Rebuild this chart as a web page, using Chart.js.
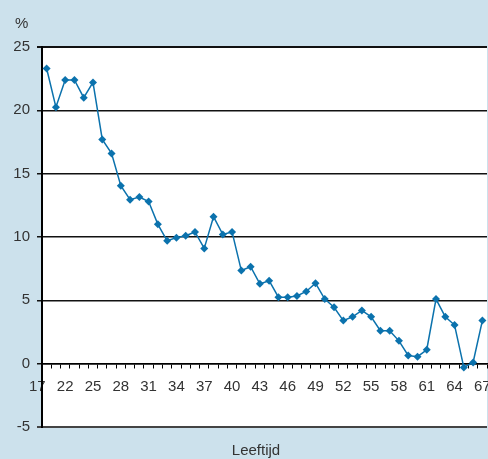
<!DOCTYPE html>
<html>
<head>
<meta charset="utf-8">
<script src="https://cdn.jsdelivr.net/npm/chart.js@4.4.1/dist/chart.umd.min.js"></script>
<style>
  html, body { margin: 0; padding: 0; background: #cce1ec; overflow: hidden; }
  #wrap { position: relative; width: 491px; height: 459px; }
</style>
</head>
<body>
<div id="wrap"><canvas id="chart"></canvas></div>
<script>
// Data
const ages = [20, 21, 22, 23, 24, 25, 26, 27, 28, 29, 30, 31, 32, 33, 34, 35,
  36, 37, 38, 39, 40, 41, 42, 43, 44, 45, 46, 47, 48, 49, 50, 51,
  52, 53, 54, 55, 56, 57, 58, 59, 60, 61, 62, 63, 64, 65, 66, 67];
const percent = [23.3, 20.25, 22.4, 22.4, 21.0, 22.2, 17.7, 16.6, 14.05, 12.95, 13.15, 12.8, 11.0, 9.7, 9.95, 10.1,
  10.4, 9.1, 11.6, 10.2, 10.4, 7.35, 7.65, 6.3, 6.55, 5.25, 5.25, 5.35, 5.7, 6.35, 5.1, 4.45,
  3.4, 3.7, 4.2, 3.7, 2.6, 2.6, 1.8, 0.65, 0.55, 1.1, 5.1, 3.7, 3.05, -0.3, 0.1, 3.4];
const tickAges = [19, 22, 25, 28, 31, 34, 37, 40, 43, 46, 49, 52, 55, 58, 61, 64, 67];
const tickLabels = ['17', '22', '25', '28', '31', '34', '37', '40', '43', '46', '49', '52', '55', '58', '61', '64', '67'];
const yTicks = [-5, 0, 5, 10, 15, 20, 25];

const FONT = '"Liberation Sans", Arial, sans-serif';
const TEXT = '#333333';
const LINE = '#0b72ad';

// white plot area + loose texts
const decor = {
  id: 'decor',
  beforeDraw(chart) {
    const a = chart.chartArea;
    const ctx = chart.ctx;
    ctx.save();
    ctx.fillStyle = '#ffffff';
    ctx.fillRect(a.left, a.top, a.right - a.left, a.bottom - a.top);
    ctx.restore();
  },
  afterDraw(chart) {
    const a = chart.chartArea;
    const ctx = chart.ctx;
    ctx.save();
    ctx.fillStyle = TEXT;
    ctx.font = '15px ' + FONT;
    ctx.textBaseline = 'alphabetic';
    ctx.textAlign = 'left';
    ctx.fillText('%', a.left - 27, a.top - 19);
    ctx.textAlign = 'center';
    ctx.fillText('Leeftijd', 256, a.bottom + 28);
    ctx.restore();
  }
};

const points = ages.map((a, i) => ({ x: a, y: percent[i] }));

new Chart(document.getElementById('chart'), {
  type: 'line',
  data: {
    datasets: [{
      data: points,
      borderColor: LINE,
      backgroundColor: LINE,
      borderWidth: 1.5,
      pointStyle: 'rectRot',
      pointRadius: 4,
      pointBorderWidth: 0,
      tension: 0
    }]
  },
  options: {
    responsive: true,
    maintainAspectRatio: false,
    animation: false,
    layout: { padding: { top: 47, bottom: 32, left: 12, right: 0 } },
    plugins: { legend: { display: false }, tooltip: { enabled: false } },
    scales: {
      x: {
        type: 'linear',
        position: { y: 0 },
        min: 19.5,
        max: 67.5,
        afterBuildTicks: axis => {
          axis.ticks = [19].concat(ages).map(v => ({ value: v }));
        },
        afterFit: axis => {
          // let the last label run off the edge, like the original
          axis.paddingLeft = 0;
          axis.paddingRight = 0;
        },
        grid: {
          drawOnChartArea: false,
          drawTicks: true,
          tickLength: 4,
          offset: true,
          color: '#000000',
          lineWidth: 1
        },
        border: { display: true, color: '#000000', width: 1.5 },
        ticks: {
          autoSkip: false,
          maxRotation: 0,
          padding: 10,
          color: TEXT,
          font: { family: FONT, size: 15 },
          callback: v => {
            const i = tickAges.indexOf(v);
            return i >= 0 ? tickLabels[i] : '';
          }
        }
      },
      y: {
        min: -5,
        max: 25,
        afterBuildTicks: axis => {
          axis.ticks = yTicks.map(v => ({ value: v }));
        },
        afterFit: axis => { axis.width = 30; },
        grid: {
          color: ctx => (ctx.tick && ctx.tick.value === -5) ? '#444444' : '#111111',
          lineWidth: ctx => (ctx.tick && (ctx.tick.value === -5 || ctx.tick.value === 25)) ? 2 : 1.5,
          tickLength: 5
        },
        border: { display: true, color: '#000000', width: 2 },
        ticks: {
          padding: 7,
          color: TEXT,
          font: { family: FONT, size: 15 }
        }
      }
    }
  },
  plugins: [decor]
});
</script>
</body>
</html>
